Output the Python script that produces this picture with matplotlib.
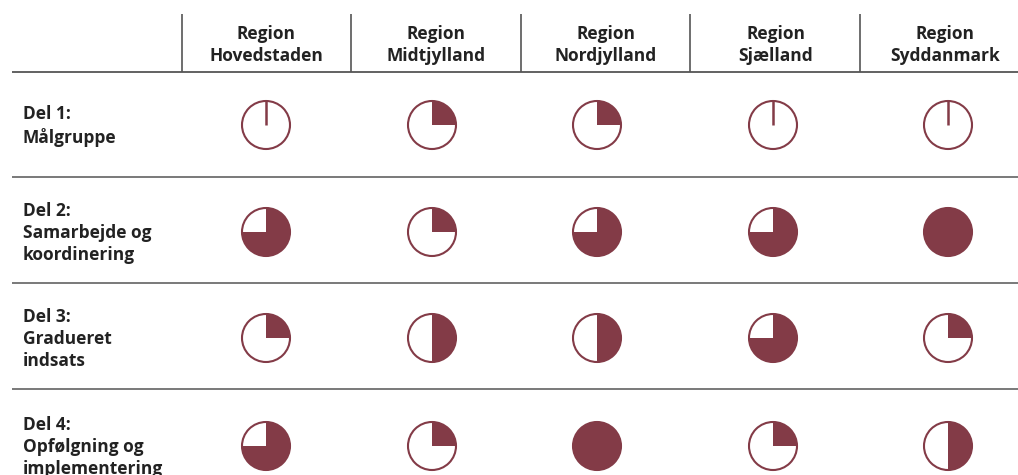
import matplotlib
matplotlib.use("Agg")
import matplotlib.pyplot as plt
from matplotlib.patches import Wedge, Circle

regions = ["Region\nHovedstaden", "Region\nMidtjylland", "Region\nNordjylland",
           "Region\nSjælland", "Region\nSyddanmark"]
parts = ["Del 1:\nMålgruppe", "Del 2:\nSamarbejde og\nkoordinering",
         "Del 3:\nGradueret\nindsats", "Del 4:\nOpfølgning og\nimplementering"]
# fraction fulfilled per part (rows) and region (columns)
del1 = [0.0, 0.25, 0.25, 0.0, 0.0]
del2 = [0.75, 0.25, 0.75, 0.75, 1.0]
del3 = [0.25, 0.5, 0.5, 0.75, 0.25]
del4 = [0.75, 0.25, 1.0, 0.25, 0.5]
values = [del1, del2, del3, del4]

W, H = 1018, 475
fig = plt.figure(figsize=(W / 100, H / 100), dpi=100)
ax = fig.add_axes([0, 0, 1, 1])
ax.set_xlim(0, W)
ax.set_ylim(H, 0)
ax.axis("off")

MAROON = "#833B47"
TEXT = "#222222"
LINE = "#555555"
FONT = ["Open Sans", "DejaVu Sans"]

col_x = [266, 432, 597, 773, 948]
head_x = [266, 436, 606, 776, 945]
sep_x = [182, 351, 521, 690, 860]
row_y = [125, 232, 338, 446]
row_lines = [72, 177, 283, 389]
R = 24

for x in sep_x:
    ax.plot([x, x], [14, 72], color=LINE, lw=1.2, solid_capstyle="butt")
for y in row_lines:
    ax.plot([12, W], [y, y], color=LINE, lw=1.3 if y == 72 else 1.1, solid_capstyle="butt")

for hx, name in zip(head_x, regions):
    ax.text(hx, 45, name, ha="center", va="center", fontsize=12.5, fontweight="bold",
            color=TEXT, family=FONT, linespacing=1.28)

for ry, name in zip(row_y, parts):
    ax.text(23, ry + 1, name, ha="left", va="center", fontsize=12.5,
            fontweight="bold", color=TEXT, family=FONT, linespacing=1.28)

for ry, rowvals in zip(row_y, values):
    for cx, v in zip(col_x, rowvals):
        if v >= 1.0:
            ax.add_patch(Circle((cx, ry), R, facecolor=MAROON, edgecolor=MAROON, lw=1.5))
            continue
        if v > 0:
            ax.add_patch(Wedge((cx, ry), R, -90, -90 + 360 * v, facecolor=MAROON,
                               edgecolor="none"))
        else:
            ax.plot([cx, cx], [ry, ry - R], color=MAROON, lw=1.8, solid_capstyle="butt")
        ax.add_patch(Circle((cx, ry), R, facecolor="none", edgecolor=MAROON, lw=1.5))

fig.savefig("out.png", dpi=100)
